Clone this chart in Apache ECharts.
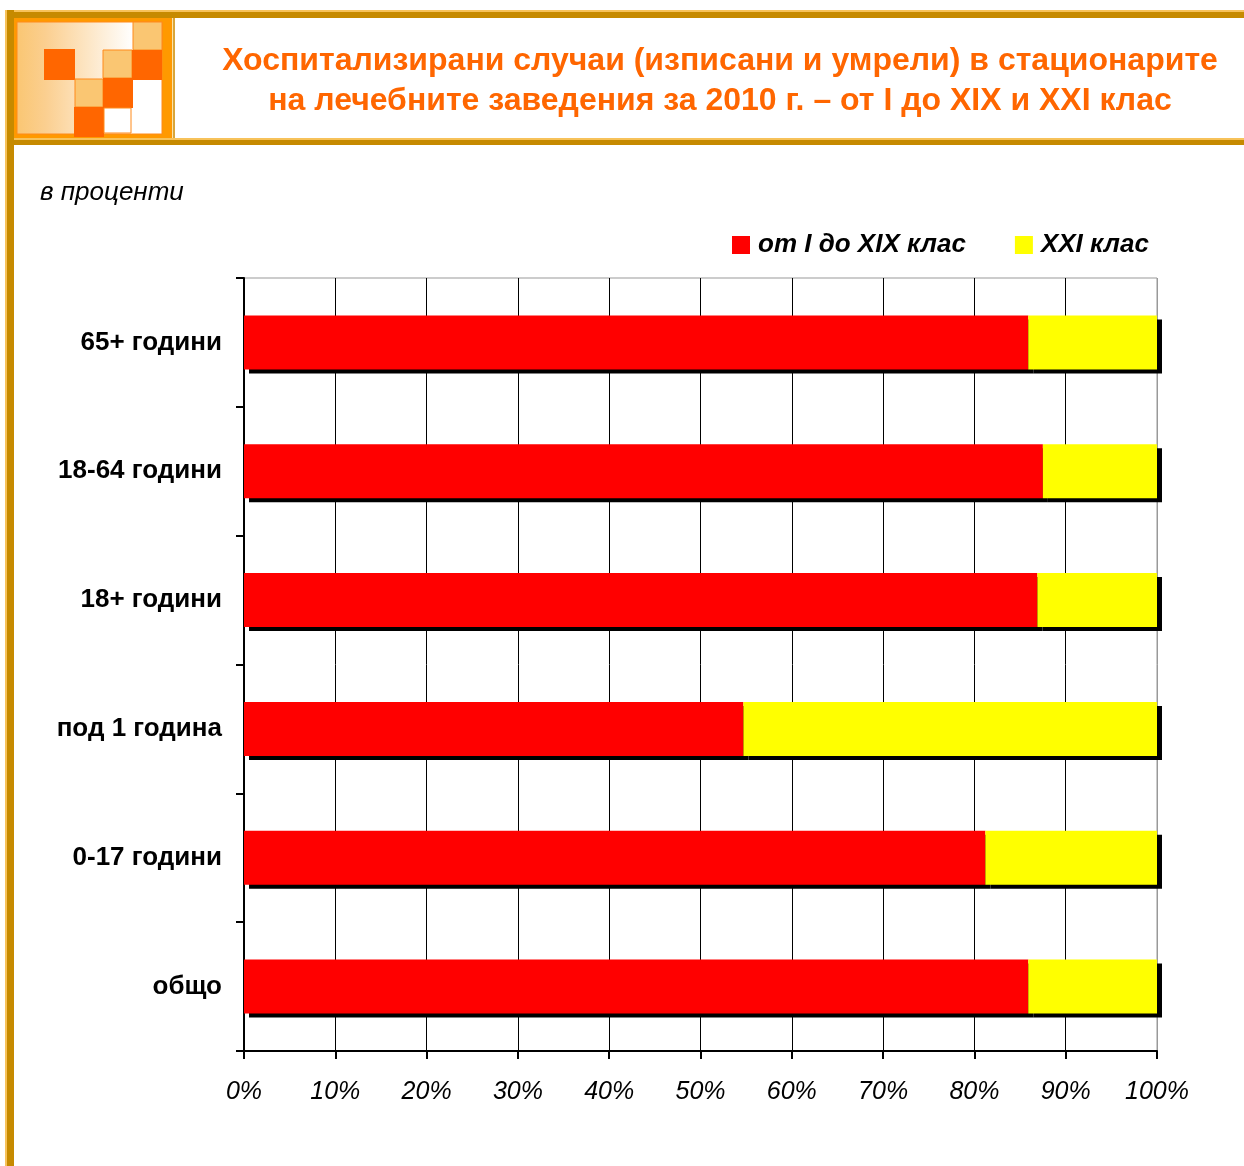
<!DOCTYPE html>
<html>
<head>
<meta charset="utf-8">
<script src="https://cdn.jsdelivr.net/npm/echarts@6/dist/echarts.min.js"></script>
<style>
  html, body { margin: 0; padding: 0; background: #fff; }
  #chart { width: 1244px; height: 1166px; }
</style>
</head>
<body>
<div id="chart"></div>
<script>
const FONT = 'Liberation Sans, Arial, sans-serif';

// bottom-to-top order, as ECharts draws a category y axis
const categories = ['общо', '0-17 години', 'под 1 година', '18+ години', '18-64 години', '65+ години'];
const classIToXIX = [85.9, 81.2, 54.7, 86.9, 87.5, 85.9];
const classXXI = [14.1, 18.8, 45.3, 13.1, 12.5, 14.1];
const seriesNames = ['от I до XIX клас', 'XXI клас'];
const titleLines = [
  'Хоспитализирани случаи (изписани и умрели) в стационарите',
  'на лечебните заведения за 2010 г. – от I до XIX и XXI клас'
];
const unitLabel = 'в проценти';

const GOLD = '#c68a00';
const GOLD_LIGHT = '#f7c25a';
const ORANGE = '#ff6600';
const PALE = '#fac672';

const chart = echarts.init(document.getElementById('chart'), null, { renderer: 'canvas' });

const barShadow = { shadowColor: '#000', shadowBlur: 0, shadowOffsetX: 5, shadowOffsetY: 4 };

chart.setOption({
  animation: false,
  backgroundColor: '#fff',
  graphic: [
    // frame: top and left golden bars
    { type: 'rect', shape: { x: 5, y: 10, width: 1239, height: 8 }, style: { fill: GOLD }, z: 10 },
    { type: 'rect', shape: { x: 5, y: 10, width: 1239, height: 2 }, style: { fill: GOLD_LIGHT }, z: 10 },
    { type: 'rect', shape: { x: 5, y: 10, width: 9, height: 1156 }, style: { fill: GOLD }, z: 10 },
    { type: 'rect', shape: { x: 5, y: 10, width: 2, height: 1156 }, style: { fill: GOLD_LIGHT }, z: 10 },
    // header bottom line
    { type: 'rect', shape: { x: 14, y: 138, width: 1230, height: 7 }, style: { fill: GOLD }, z: 10 },
    { type: 'rect', shape: { x: 14, y: 138, width: 1230, height: 2 }, style: { fill: GOLD_LIGHT }, z: 10 },
    // logo
    { type: 'rect', shape: { x: 14, y: 18, width: 158, height: 120 }, style: { fill: '#ff9900' }, z: 10 },
    {
      type: 'rect', shape: { x: 17, y: 22, width: 145, height: 112 }, z: 10,
      style: {
        fill: new echarts.graphic.LinearGradient(0, 0, 1, 0, [
          { offset: 0, color: PALE },
          { offset: 0.2, color: '#fbcf90' },
          { offset: 0.8, color: '#ffffff' },
          { offset: 1, color: '#ffffff' }
        ]),
        stroke: '#ff8a1a', lineWidth: 1
      }
    },
    { type: 'rect', shape: { x: 44, y: 49, width: 31, height: 31 }, style: { fill: ORANGE }, z: 11 },
    { type: 'rect', shape: { x: 133, y: 22, width: 29, height: 28 }, style: { fill: PALE, stroke: '#ff8a1a', lineWidth: 1 }, z: 11 },
    { type: 'rect', shape: { x: 103, y: 50, width: 29, height: 28 }, style: { fill: PALE, stroke: '#ff8a1a', lineWidth: 1 }, z: 11 },
    { type: 'rect', shape: { x: 132, y: 50, width: 30, height: 30 }, style: { fill: ORANGE }, z: 11 },
    { type: 'rect', shape: { x: 75, y: 79, width: 28, height: 28 }, style: { fill: PALE, stroke: '#ff8a1a', lineWidth: 1 }, z: 11 },
    { type: 'rect', shape: { x: 103, y: 78, width: 30, height: 30 }, style: { fill: ORANGE }, z: 11 },
    { type: 'rect', shape: { x: 74, y: 107, width: 30, height: 30 }, style: { fill: ORANGE }, z: 11 },
    { type: 'rect', shape: { x: 104, y: 108, width: 27, height: 25 }, style: { fill: '#fff', stroke: '#ff8a1a', lineWidth: 1 }, z: 11 },
    // separator between logo and title
    { type: 'rect', shape: { x: 172, y: 18, width: 3, height: 120 }, style: { fill: '#d9a53a' }, z: 10 },
    { type: 'rect', shape: { x: 172, y: 18, width: 1, height: 120 }, style: { fill: '#fbe3a8' }, z: 10 },
    // title
    {
      type: 'text', x: 720, y: 61, z: 12,
      style: { text: titleLines[0], font: 'bold 32px ' + FONT, fill: ORANGE, align: 'center', verticalAlign: 'middle' }
    },
    {
      type: 'text', x: 720, y: 101, z: 12,
      style: { text: titleLines[1], font: 'bold 32px ' + FONT, fill: ORANGE, align: 'center', verticalAlign: 'middle' }
    },
    {
      type: 'text', x: 40, y: 193, z: 12,
      style: { text: unitLabel, font: 'italic 26px ' + FONT, fill: '#000', align: 'left', verticalAlign: 'middle' }
    }
  ],
  legend: {
    data: seriesNames,
    left: 727,
    top: 227,
    icon: 'rect',
    itemWidth: 18,
    itemHeight: 18,
    itemGap: 49,
    textStyle: { fontSize: 26, fontWeight: 'bold', fontStyle: 'italic', fontFamily: FONT, color: '#000', padding: [0, 0, 0, 3] }
  },
  grid: {
    left: 244, right: 87, top: 278, bottom: 115,
    show: true, borderColor: '#999', borderWidth: 1, backgroundColor: 'transparent'
  },
  xAxis: {
    type: 'value',
    min: 0, max: 100, interval: 10,
    axisLine: { show: true, lineStyle: { color: '#000', width: 2 } },
    axisTick: { show: true, length: 8, lineStyle: { color: '#000', width: 2 } },
    splitLine: {
      show: true,
      lineStyle: { color: ['#000', '#000', '#000', '#000', '#000', '#000', '#000', '#000', '#000', '#000', '#999'], width: 1 }
    },
    axisLabel: {
      formatter: '{value}%', margin: 29,
      fontSize: 25, fontStyle: 'italic', fontFamily: FONT, color: '#000'
    }
  },
  yAxis: {
    type: 'category',
    data: categories,
    axisLine: { show: true, lineStyle: { color: '#000', width: 2 } },
    axisTick: { show: true, length: 8, lineStyle: { color: '#000', width: 2 } },
    splitLine: { show: false },
    axisLabel: { margin: 22, fontSize: 26, fontWeight: 'bold', fontFamily: FONT, color: '#000' }
  },
  series: [
    {
      name: seriesNames[0], type: 'bar', stack: 'total', barWidth: 54,
      data: classIToXIX,
      itemStyle: Object.assign({ color: '#ff0000' }, barShadow)
    },
    {
      name: seriesNames[1], type: 'bar', stack: 'total', barWidth: 54,
      data: classXXI,
      itemStyle: Object.assign({ color: '#ffff00' }, barShadow)
    }
  ]
});
</script>
</body>
</html>
